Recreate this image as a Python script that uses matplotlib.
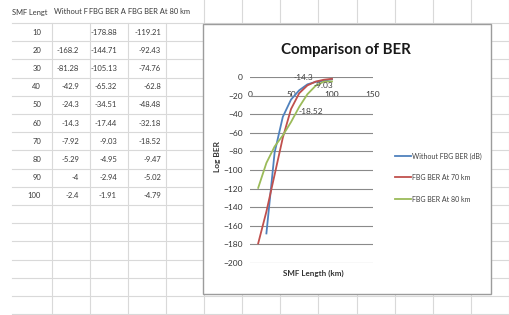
import numpy as np
import matplotlib
matplotlib.use("Agg")
import matplotlib.pyplot as plt
from matplotlib.patches import Rectangle
from matplotlib.lines import Line2D

# ---------------- data ----------------
smf_length = [10, 20, 30, 40, 50, 60, 70, 80, 90, 100]
without_fbg = [np.nan, -168.2, -81.28, -42.9, -24.3, -14.3, -7.92, -5.29, -4, -2.4]
fbg_70km = [-178.88, -144.71, -105.13, -65.32, -34.51, -17.44, -9.03, -4.95, -2.94, -1.91]
fbg_80km = [-119.21, -92.43, -74.76, -62.8, -48.48, -32.18, -18.52, -9.47, -5.02, -4.79]

header_labels = ["SMF Lengt", "Without F", "FBG BER A", "FBG BER At 80 km"]
series_names = ["Without FBG BER (dB)", "FBG BER At 70 km", "FBG BER At 80 km"]
series_colors = ["#4F81BD", "#C0504D", "#9BBB59"]
title_text = "Comparison of BER"
x_label = "SMF Length (km)"
y_label = "Log BER"
x_ticks = [0, 50, 100, 150]
y_ticks = list(range(-200, 1, 20))

# ---------------- layout helpers ----------------
W, H = 510, 315
fig = plt.figure(figsize=(W / 100, H / 100), dpi=100)
fig.patch.set_facecolor("white")
FONT = ["Lato", "DejaVu Sans"]
plt.rcParams["font.family"] = FONT


def fx(x):
    return x / W


def fy(y):
    return 1 - y / H


# ---------------- spreadsheet grid ----------------
grid_c = "#d9d9d9"
row0, row_h = 23.0, 18.2
col_lines = [52, 90, 128, 166, 204, 242, 280, 318, 357, 395, 433, 471, 509]
for k in range(17):
    y = row0 + k * row_h
    fig.add_artist(Line2D([fx(12), fx(510)], [fy(y), fy(y)], color=grid_c, lw=0.8, zorder=1))
for x in col_lines:
    ytop = 0 if x > 200 else row0
    fig.add_artist(Line2D([fx(x), fx(x)], [fy(ytop), fy(315)], color=grid_c, lw=0.8, zorder=1))

# table text
txt_c = "#3a3a3a"
header_x = [12, 54, 89, 128]
for lab, x in zip(header_labels, header_x):
    fig.text(fx(x), fy(12), lab, fontsize=5.4, color=txt_c, ha="left", va="center", zorder=2)

right_edges = [41, 79, 117, 161]
columns = [smf_length, without_fbg, fbg_70km, fbg_80km]
for i in range(len(smf_length)):
    yc = row0 + row_h * (i + 0.5)
    for col, xr in zip(columns, right_edges):
        v = col[i]
        if v is None or (isinstance(v, float) and np.isnan(v)):
            continue
        fig.text(fx(xr), fy(yc), f"{v:g}", fontsize=5.5, color=txt_c, ha="right", va="center", zorder=2)

# ---------------- chart object ----------------
cx0, cy0, cx1, cy1 = 203, 24, 491, 294
fig.add_artist(Rectangle((fx(cx0), fy(cy1)), fx(cx1 - cx0), (cy1 - cy0) / H,
                         facecolor="white", edgecolor="#9c9c9c", lw=1.0, zorder=3))

ax_l, ax_r, ax_t, ax_b = 250, 373, 77, 263
ax = fig.add_axes([fx(ax_l), fy(ax_b), (ax_r - ax_l) / W, (ax_b - ax_t) / H])
ax.set_zorder(5)
ax.patch.set_alpha(0)

series = [without_fbg, fbg_70km, fbg_80km]
for vals, c, name in zip(series, series_colors, series_names):
    ax.plot(smf_length, vals, color=c, lw=1.3, label=name, zorder=3)

ax.set_xlim(0, 150)
ax.set_ylim(-200, 0)
ax.set_xticks(x_ticks)
ax.set_yticks(y_ticks)
ax.yaxis.grid(True, color="#8a8a8a", lw=0.8)
ax.set_axisbelow(True)
for s in ["left", "right", "top"]:
    ax.spines[s].set_visible(False)
ax.spines["bottom"].set_position(("data", 0))
ax.spines["bottom"].set_visible(False)
ax.tick_params(axis="x", length=0, pad=10, labelsize=6, labelcolor="#333333")
ax.tick_params(axis="y", length=0, pad=5, labelsize=6, labelcolor="#333333")

# data labels
ax.annotate(f"{without_fbg[5]:g}", (smf_length[5], without_fbg[5]), xytext=(4, 13),
            textcoords="offset pixels", ha="center", va="center", fontsize=6, color="#404040")
ax.annotate(f"{fbg_70km[6]:g}", (smf_length[6], fbg_70km[6]), xytext=(16, 0),
            textcoords="offset pixels", ha="center", va="center", fontsize=6, color="#404040")
ax.annotate(f"{fbg_80km[6]:g}", (smf_length[6], fbg_80km[6]), xytext=(3, -17),
            textcoords="offset pixels", ha="center", va="center", fontsize=6, color="#404040")

# titles
fig.text(fx(346), fy(50), title_text, fontsize=10.8, fontweight="bold", color="#1a1a1a",
         ha="center", va="center", zorder=6)
fig.text(fx(313), fy(273), x_label, fontsize=5.8, fontweight="bold", color="#333333",
         ha="center", va="center", zorder=6)
fig.text(fx(218), fy(157), y_label, fontsize=6.0, fontweight="bold", color="#333333",
         ha="center", va="center", rotation=90, zorder=6)

# legend
leg_y = [156, 177, 199]
for name, c, y in zip(series_names, series_colors, leg_y):
    fig.add_artist(Line2D([fx(395), fx(411)], [fy(y), fy(y)], color=c, lw=1.3, zorder=6))
    fig.text(fx(412), fy(y), name, fontsize=5.0, color="#404040", ha="left", va="center", zorder=6)

fig.savefig("out.png", dpi=100, facecolor="white")
